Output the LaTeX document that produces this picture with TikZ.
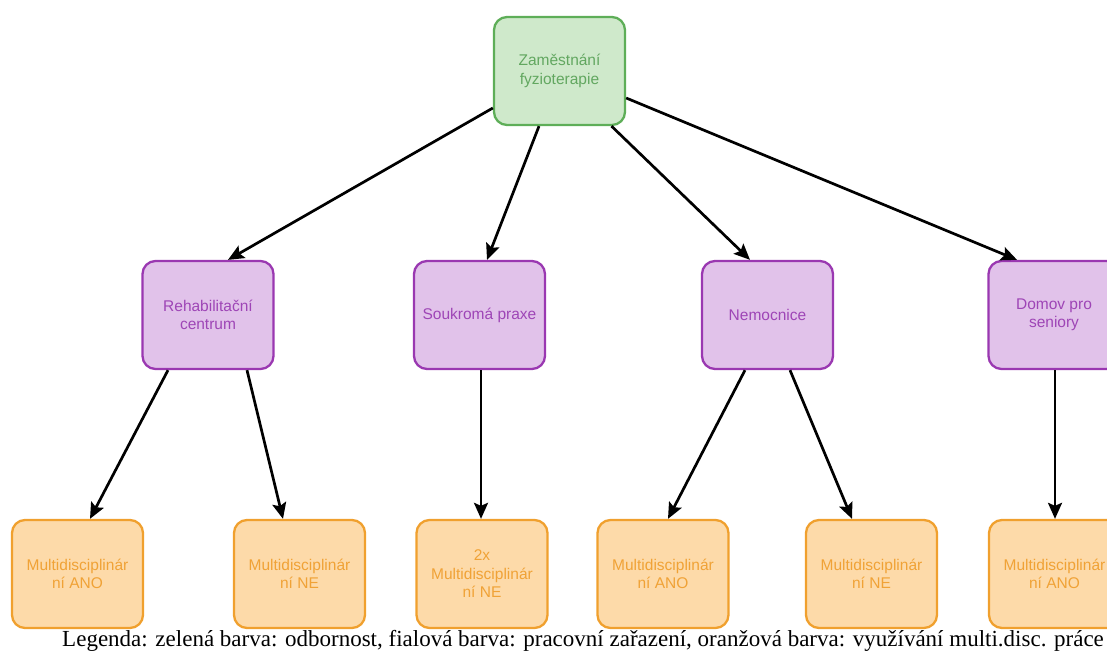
\documentclass[tikz,border=0pt]{standalone}
\usepackage{fontspec}
\setmainfont{Liberation Serif}
\newfontfamily\boxfont{Liberation Sans}
\usetikzlibrary{arrows.meta,calc}

\definecolor{gfill}{HTML}{CFE9CB}
\definecolor{gline}{HTML}{5EAE58}
\definecolor{gtext}{HTML}{62A760}
\definecolor{pfill}{HTML}{E1C2EA}
\definecolor{pline}{HTML}{9A38B1}
\definecolor{ptext}{HTML}{9E45B6}
\definecolor{ofill}{HTML}{FDDAA9}
\definecolor{oline}{HTML}{F0A02E}
\definecolor{otext}{HTML}{F0A236}

\tikzset{
  box/.style={rounded corners=13pt, line width=2.3pt, minimum width=131pt,
    minimum height=108pt, inner sep=0pt, align=center,
    font=\boxfont\fontsize{15.5}{18.5}\selectfont},
  greenbox/.style={box, fill=gfill, draw=gline, text=gtext},
  purplebox/.style={box, fill=pfill, draw=pline, text=ptext},
  orangebox/.style={box, fill=ofill, draw=oline, text=otext},
  link/.style={line width=2.7pt, draw=black,
    -{Stealth[length=16pt,width=14pt,inset=3pt]}}
}

\begin{document}
\begin{tikzpicture}[x=1pt,y=-1pt]
\useasboundingbox (0,0) rectangle (1107,655);

% top level
\node[greenbox] (top) at (559.5,71) {Zaměstnání\\fyzioterapie};

% workplaces
\node[purplebox] (rehab) at (208,315) {Rehabilitační\\centrum};
\node[purplebox] (soukr) at (479.5,315) {Soukromá praxe};
\node[purplebox] (nem) at (767.5,315) {Nemocnice};
\node[purplebox] (domov) at (1054,315) {Domov pro\\seniory};

% multidisciplinary work
\node[orangebox] (o1) at (77.5,574) {Multidisciplinár\\ní ANO};
\node[orangebox] (o2) at (299.5,574) {Multidisciplinár\\ní NE};
\node[orangebox] (o3) at (482,574) {2x\\Multidisciplinár\\ní NE};
\node[orangebox] (o4) at (663,574) {Multidisciplinár\\ní ANO};
\node[orangebox] (o5) at (871.5,574) {Multidisciplinár\\ní NE};
\node[orangebox] (o6) at (1054.5,574) {Multidisciplinár\\ní ANO};

% connectors
\draw[link] ($(top.west)+(0,37)$) -- ($(rehab.north)+(20,0)$);
\draw[link] ($(top.south)+(-20.5,0)$) -- ($(soukr.north)+(7.5,0)$);
\draw[link] ($(top.south)+(52,0)$) -- ($(nem.north)+(-17.5,0)$);
\draw[link] ($(top.east)+(0,27)$) -- ($(domov.north)+(-37,0)$);

\draw[link] ($(rehab.south)+(-40,0)$) -- ($(o1.north)+(12.5,0)$);
\draw[link] ($(rehab.south)+(39,0)$) -- ($(o2.north)+(-16.5,0)$);
\draw[link] ($(soukr.south)+(1.5,0)$) -- ($(o3.north)+(-1,0)$);
\draw[link] ($(nem.south)+(-22.5,0)$) -- ($(o4.north)+(5,0)$);
\draw[link] ($(nem.south)+(22.5,0)$) -- ($(o5.north)+(-19.5,0)$);
\draw[link] ($(domov.south)+(1,0)$) -- ($(o6.north)+(0.5,0)$);

% legend
\node[anchor=base east, inner sep=0pt, font=\fontsize{23}{27}\selectfont] (legend) at (1104,646)
  {Legenda: zelená barva: odbornost, fialová barva: pracovní zařazení, oranžová barva: využívání multi.disc. práce};
\end{tikzpicture}
\end{document}
